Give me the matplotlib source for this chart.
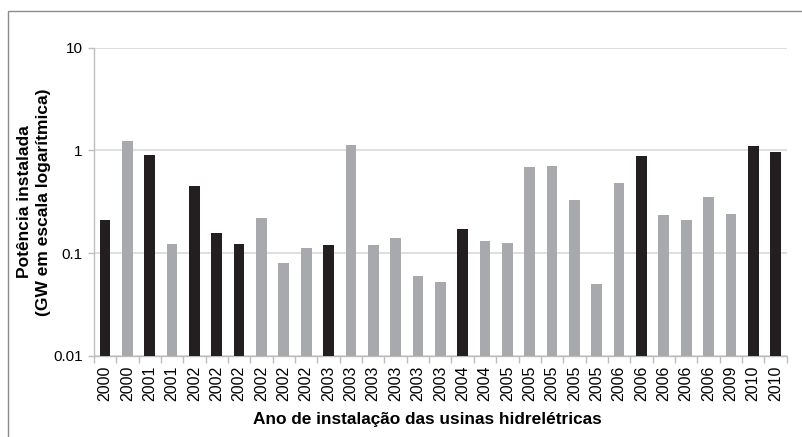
import matplotlib
matplotlib.use('Agg')
import matplotlib.pyplot as plt
import matplotlib.patches as mpatches
import numpy as np

plt.rcParams['font.family'] = ['Liberation Sans', 'DejaVu Sans']

# ── DATA ─────────────────────────────────────────────────────────────────────
years = ['2000', '2000', '2001', '2001', '2002', '2002', '2002', '2002', '2002',
         '2002', '2003', '2003', '2003', '2003', '2003', '2003', '2004', '2004',
         '2005', '2005', '2005', '2005', '2005', '2006', '2006', '2006', '2006',
         '2006', '2009', '2010', '2010']
power_gw = [0.21, 1.23, 0.90, 0.124, 0.45, 0.157, 0.122, 0.222, 0.080,
            0.112, 0.120, 1.14, 0.120, 0.140, 0.060, 0.052, 0.173, 0.130,
            0.126, 0.694, 0.71, 0.328, 0.050, 0.483, 0.88, 0.236, 0.209,
            0.355, 0.239, 1.10, 0.963]
highlight = [1, 0, 1, 0, 1, 1, 1, 0, 0,
             0, 1, 0, 0, 0, 0, 0, 1, 0,
             0, 0, 0, 0, 0, 0, 1, 0, 0,
             0, 0, 1, 1]

DARK = '#231f20'
LIGHT = '#a7a9ac'
AXIS_GREY = '#bdbdbd'

fig = plt.figure(figsize=(8.02, 4.37), dpi=100)
ax = fig.add_axes([0.117, 0.1854, 0.864, 0.7056])

x = np.arange(len(years))
colors = [DARK if h else LIGHT for h in highlight]
ax.bar(x, power_gw, width=0.48, color=colors, zorder=3)

ax.set_yscale('log')
ax.set_ylim(0.01, 10)
ax.set_xlim(-0.5, len(years) - 0.5)
ax.set_yticks([0.01, 0.1, 1, 10])
ax.set_yticklabels(['0.01', '0.1', '1', '10'])
ax.yaxis.set_minor_locator(matplotlib.ticker.NullLocator())
ax.yaxis.grid(True, color='#d9d9d9', linewidth=1.2, zorder=0)

# category ticks between bars (Excel style)
ax.set_xticks(x)
ax.set_xticklabels(years, rotation=90, fontsize=11.5)
ax.tick_params(axis='x', length=0, pad=7)
ax.set_xticks(np.arange(len(years) + 1) - 0.5, minor=True)
ax.tick_params(axis='x', which='minor', length=5, color=AXIS_GREY, width=1)
ax.tick_params(axis='y', length=4, color=AXIS_GREY, width=1, labelsize=11, pad=4)

for side in ['top', 'right']:
    ax.spines[side].set_visible(False)
for side in ['left', 'bottom']:
    ax.spines[side].set_color(AXIS_GREY)
    ax.spines[side].set_linewidth(1)

ax.set_ylabel('Potência instalada\n(GW em escala logarítmica)', fontsize=12.5,
              fontweight='bold', linespacing=1.3)
ax.yaxis.set_label_coords(-0.062, 0.5)
ax.set_xlabel('Ano de instalação das usinas hidrelétricas', fontsize=12.4,
              fontweight='bold')
ax.xaxis.set_label_coords(0.482, -0.183)

# outer chart frame
fig.patches.append(mpatches.Rectangle((8 / 802, -0.1), 1.2, 1 - 11 / 437 + 0.1,
                                      transform=fig.transFigure, fill=False,
                                      edgecolor='#8c8c8c', linewidth=1))

fig.savefig('out.png', dpi=100, facecolor='white')
